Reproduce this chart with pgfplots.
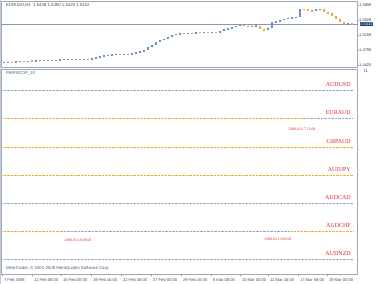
\documentclass[border=0pt]{standalone}
\usepackage{pgfplots}
\pgfplotsset{compat=1.18}
\usepackage{pgfplotstable}
\usepackage{fontspec}
\setmainfont{Liberation Serif}
\newfontfamily\uisans{Liberation Sans}
\definecolor{framec}{HTML}{9AA9BD}
\definecolor{upc}{HTML}{6A8ED0}
\definecolor{dnc}{HTML}{F0A830}
\definecolor{yelline}{HTML}{F0B428}
\definecolor{gbline}{HTML}{9AA6C8}
\definecolor{redc}{HTML}{E02828}
\definecolor{navy}{HTML}{1E3C78}
\definecolor{uitext}{HTML}{4A5A80}

\pgfplotstableread{
x o c
3 1.4490 1.4494
7 1.4494 1.4500
15 1.4490 1.4505
19 1.4505 1.4519
27 1.4512 1.4525
35 1.4519 1.4530
39 1.4530 1.4543
47 1.4538 1.4550
55 1.4540 1.4545
59 1.4545 1.4555
63 1.4555 1.4562
67 1.4562 1.4568
75 1.4560 1.4572
83 1.4565 1.4570
91 1.4568 1.4590
95 1.4590 1.4615
99 1.4615 1.4640
103 1.4640 1.4655
107 1.4655 1.4670
111 1.4670 1.4686
115 1.4686 1.4691
123 1.4685 1.4695
131 1.4691 1.4710
135 1.4710 1.4730
139 1.4730 1.4760
143 1.4760 1.4790
147 1.4790 1.4860
151 1.4860 1.4920
155 1.4920 1.4980
159 1.4980 1.5030
163 1.5030 1.5070
167 1.5070 1.5110
171 1.5110 1.5160
175 1.5160 1.5190
179 1.5190 1.5200
187 1.5195 1.5210
195 1.5209 1.5225
203 1.5220 1.5230
211 1.5225 1.5238
219 1.5233 1.5250
223 1.5250 1.5307
227 1.5307 1.5330
231 1.5330 1.5357
235 1.5357 1.5390
239 1.5390 1.5406
251 1.5375 1.5381
255 1.5381 1.5390
267 1.5283 1.5330
271 1.5330 1.5470
275 1.5470 1.5500
279 1.5500 1.5529
283 1.5529 1.5560
287 1.5560 1.5579
291 1.5579 1.5590
295 1.5590 1.5603
299 1.5603 1.5800
315 1.5751 1.5790
319 1.5790 1.5800
347 1.5431 1.5440
}\uptable

\pgfplotstableread{
x o c
11 1.4500 1.4490
23 1.4519 1.4512
31 1.4525 1.4519
43 1.4543 1.4538
51 1.4550 1.4540
71 1.4568 1.4560
79 1.4572 1.4565
87 1.4570 1.4568
119 1.4691 1.4685
127 1.4695 1.4691
183 1.5200 1.5195
191 1.5210 1.5209
199 1.5225 1.5220
207 1.5230 1.5225
215 1.5238 1.5233
243 1.5406 1.5385
247 1.5385 1.5375
259 1.5390 1.5300
263 1.5300 1.5283
303 1.5800 1.5790
307 1.5790 1.5770
311 1.5770 1.5751
323 1.5800 1.5726
327 1.5726 1.5690
331 1.5690 1.5630
335 1.5630 1.5560
339 1.5560 1.5480
343 1.5480 1.5431
351 1.5440 1.5432
}\downtable

\begin{document}
\begin{tikzpicture}[x=1pt,y=1pt]
\path[use as bounding box] (0,0) rectangle (378,284);
\fill[white] (0,0) rectangle (378,284);
\draw[framec!60, line width=1pt] (0.5,0) -- (0.5,284);

% ---------- top price panel ----------
\begin{axis}[
  at={(1pt,217pt)}, anchor=south west,
  width=356pt, height=66pt, scale only axis,
  xmin=0, xmax=356, ymin=1.43707, ymax=1.5998,
  axis line style={framec, line width=0.6pt},
  xtick=\empty,
  ytick={1.5899,1.5529,1.5159,1.4790,1.4420},
  yticklabels={1.5899,1.5529,1.5159,1.4790,1.4420},
  ytick pos=right, yticklabel pos=right,
  tick align=outside, major tick length=2pt,
  tick style={framec, line width=0.4pt},
  yticklabel style={font=\uisans\fontsize{4}{5}\selectfont, text=black!75, inner sep=0.5pt, xshift=-0.5pt},
  clip=false,
]
\addplot[framec!90!black, line width=0.5pt] coordinates {(0,1.5432) (356,1.5432)};
\addplot[draw=none, mark=none, forget plot,
  error bars/.cd, y dir=both, y explicit, error mark=none,
  error bar style={draw=upc, line width=1.1pt, solid}]
  table[x=x, y expr={(\thisrow{o}+\thisrow{c})/2}, y error expr={max(abs(\thisrow{c}-\thisrow{o})/2,0.0009)}] {\uptable};
\addplot[draw=none, mark=none, forget plot,
  error bars/.cd, y dir=both, y explicit, error mark=none,
  error bar style={draw=dnc, line width=1.1pt, solid}]
  table[x=x, y expr={(\thisrow{o}+\thisrow{c})/2}, y error expr={max(abs(\thisrow{c}-\thisrow{o})/2,0.0009)}] {\downtable};
\node[anchor=west, font=\uisans\fontsize{4.3}{5}\selectfont, text=black!70] at (axis cs:1.5,1.5895) {EURUSD,H4\ \ 1.5438 1.5450 1.5429 1.5432};
\node[anchor=west, fill=navy, text=white, inner sep=0.7pt, font=\uisans\fontsize{4}{5}\selectfont] at (axis cs:358.5,1.5432) {1.5432};
\end{axis}

% ---------- indicator panel ----------
\begin{axis}[
  at={(1pt,10pt)}, anchor=south west,
  width=356pt, height=205pt, scale only axis,
  xmin=0, xmax=356, ymin=69, ymax=274, y dir=reverse,
  axis line style={framec, line width=0.6pt},
  ytick=\empty,
  xtick={1,31,60,90,120,150,180,210,239,267,297,326},
  xticklabels={7 Feb 2008,12 Feb 08:00,15 Feb 00:00,19 Feb 16:00,22 Feb 08:00,27 Feb 00:00,29 Feb 16:00,5 Mar 08:00,10 Mar 00:00,12 Mar 16:00,17 Mar 08:00,19 Mar 00:00},
  xtick pos=bottom, tick align=outside, major tick length=2pt,
  tick style={framec!80!black, line width=0.4pt},
  xticklabel style={anchor=north west, xshift=-1.5pt, yshift=1pt, font=\uisans\fontsize{4.1}{5}\selectfont, text=black!70},
  clip=false,
]
\addplot[draw=gbline, line width=0.9pt, dash pattern=on 0.7pt off 0.7pt] coordinates {(0,90.5) (352,90.5)};
\addplot[draw=yelline, line width=1pt, dash pattern=on 0.7pt off 0.7pt] coordinates {(0,118.5) (303,118.5)};
\addplot[draw=gbline, line width=0.9pt, dash pattern=on 0.7pt off 0.7pt] coordinates {(303,118.5) (352,118.5)};
\addplot[draw=yelline, line width=1pt, dash pattern=on 0.7pt off 0.7pt] coordinates {(0,147.5) (352,147.5)};
\addplot[draw=yelline, line width=1pt, dash pattern=on 0.7pt off 0.7pt] coordinates {(0,175.5) (352,175.5)};
\addplot[draw=gbline, line width=0.9pt, dash pattern=on 0.7pt off 0.7pt] coordinates {(0,203.5) (352,203.5)};
\addplot[draw=yelline, line width=1pt, dash pattern=on 0.7pt off 0.7pt] coordinates {(0,231.5) (60,231.5)};
\addplot[draw=gbline, line width=0.9pt, dash pattern=on 0.7pt off 0.7pt] coordinates {(60,231.5) (290,231.5)};
\addplot[draw=yelline, line width=1pt, dash pattern=on 0.7pt off 0.7pt] coordinates {(290,231.5) (352,231.5)};
\addplot[draw=gbline, line width=0.9pt, dash pattern=on 0.7pt off 0.7pt] coordinates {(0,259.5) (352,259.5)};

\node[anchor=west, font=\uisans\fontsize{4.3}{5}\selectfont, text=uitext] at (axis cs:1.5,73.5) {PAIRSCOP\_10};
\begin{scope}[every node/.style={anchor=south east, inner sep=0pt, font=\fontsize{6}{7}\selectfont, text=redc}]
\node at (axis cs:350,87) {AUDUSD};
\node at (axis cs:350,115) {EURAUD};
\node at (axis cs:350,144) {GBPAUD};
\node at (axis cs:350,172) {AUDJPY};
\node at (axis cs:350,200) {AUDCAD};
\node at (axis cs:350,228) {AUDCHF};
\node at (axis cs:350,256) {AUDNZD};
\end{scope}
\begin{scope}[every node/.style={inner sep=0pt, font=\fontsize{3.8}{4.5}\selectfont, text=redc}]
\node at (axis cs:301,129.5) {2008.03.17 12:00};
\node at (axis cs:77,240) {2008.03.18 08:00};
\node at (axis cs:277,239.5) {2008.03.13 00:00};
\end{scope}
\node[anchor=west, font=\uisans\fontsize{4.3}{5}\selectfont, text=uitext] at (axis cs:1.5,268.5) {MetaTrader, © 2001-2008 MetaQuotes Software Corp.};
\node[anchor=west, font=\uisans\fontsize{4.1}{5}\selectfont, text=black!70] at (axis cs:359,71) {11};
\end{axis}
\end{tikzpicture}
\end{document}
